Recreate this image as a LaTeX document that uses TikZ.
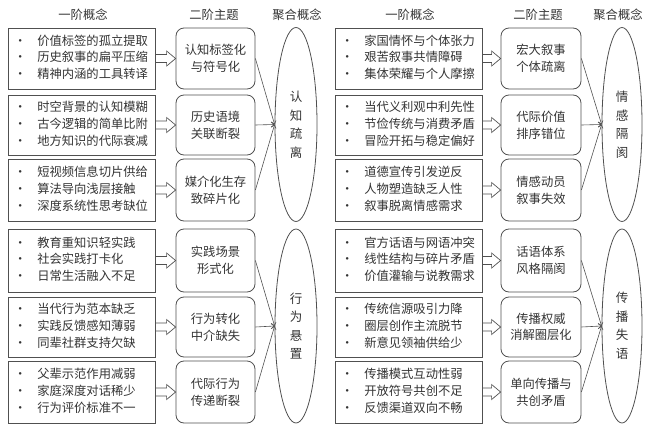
\documentclass[tikz,border=0pt]{standalone}
\usepackage{fontspec}
\setmainfont{Noto Sans CJK SC}
\usetikzlibrary{calc,shapes.geometric,arrows.meta}
\definecolor{ink}{HTML}{333333}
\definecolor{edge}{HTML}{505050}
\newcommand\fsz{\fontsize{12.3}{16.7}\selectfont}
\newcommand\blist[3]{\begin{tabular}{@{}l@{\hspace{11pt}}l@{}}•&#1\\•&#2\\•&#3\end{tabular}}
\newcommand\hollowarr[2]{%
  \path (#1.east) coordinate (ha) (#2.west |- #1.east) coordinate (hb);
  \draw[hollowarrow] ($(ha)+(0,-4)$) -- ($(hb)+(-9,-4)$) -- ($(hb)+(-9,-7.5)$) -- (hb)
     -- ($(hb)+(-9,7.5)$) -- ($(hb)+(-9,4)$) -- ($(ha)+(0,4)$);}
\tikzset{
  fobox/.style={draw=edge, line width=0.8pt, rectangle, text width=135pt, align=left, minimum height=61pt,
     inner xsep=6pt, inner ysep=0pt, text=ink, font=\fsz, anchor=center},
  thbox/.style={draw=edge, line width=0.8pt, rectangle, rounded corners=8pt, minimum width=79pt,
     minimum height=61pt, align=center, text=ink, font=\fsz, inner sep=0pt},
  agg/.style={draw=edge, line width=0.8pt, ellipse, minimum width=42pt, minimum height=194pt,
     inner sep=0pt, align=center, text=ink, font=\fontsize{12.5}{18.5}\selectfont},
  hdr/.style={text=ink, font=\fsz, inner sep=0pt},
  hollowarrow/.style={draw=edge, line width=0.7pt, line join=miter},
  conn/.style={draw=edge, line width=0.6pt, -{Straight Barb[length=3pt,width=5pt]}}
}
\begin{document}
\begin{tikzpicture}[x=1pt,y=-1pt]
\useasboundingbox (0,0) rectangle (649,426);
% headers
\node[hdr] (h1) at (83,15) {一阶概念};
\node[hdr] (h2) at (214,15) {二阶主题};
\node[hdr] (h3) at (297,15) {聚合概念};
\node[hdr] (h4) at (410,15) {一阶概念};
\node[hdr] (h5) at (538,15) {二阶主题};
\node[hdr] (h6) at (618,15) {聚合概念};
% left panel first-order boxes
\node[fobox] (L1) at (81.5,58.5) {\blist{价值标签的孤立提取}{历史叙事的扁平压缩}{精神内涵的工具转译}};
\node[fobox, minimum height=60pt] (L2) at (81.5,125) {\blist{时空背景的认知模糊}{古今逻辑的简单比附}{地方知识的代际衰减}};
\node[fobox, minimum height=62pt] (L3) at (81.5,190) {\blist{短视频信息切片供给}{算法导向浅层接触}{深度系统性思考缺位}};
\node[fobox, minimum height=63pt] (L4) at (81.5,260.5) {\blist{教育重知识轻实践}{社会实践打卡化}{日常生活融入不足}};
\node[fobox, minimum height=60pt] (L5) at (81.5,327) {\blist{当代行为范本缺乏}{实践反馈感知薄弱}{同辈社群支持欠缺}};
\node[fobox, minimum height=62pt] (L6) at (81.5,392) {\blist{父辈示范作用减弱}{家庭深度对话稀少}{行为评价标准不一}};
% left panel themes
\node[thbox] (T1) at (215.5,58.5) {认知标签化\\与符号化};
\node[thbox, minimum height=60pt] (T2) at (215.5,125) {历史语境\\关联断裂};
\node[thbox, minimum height=62pt] (T3) at (215.5,190) {媒介化生存\\致碎片化};
\node[thbox, minimum height=63pt] (T4) at (215.5,260.5) {实践场景\\形式化};
\node[thbox, minimum height=60pt] (T5) at (215.5,327) {行为转化\\中介缺失};
\node[thbox, minimum height=62pt] (T6) at (215.5,392) {代际行为\\传递断裂};
% left panel aggregates
\node[agg] (A1) at (296,124.5) {认\\知\\疏\\离};
\node[agg] (A2) at (296,326) {行\\为\\悬\\置};
% right panel first-order boxes
\node[fobox] (R1) at (408.5,58.5) {\blist{家国情怀与个体张力}{艰苦叙事共情障碍}{集体荣耀与个人摩擦}};
\node[fobox, minimum height=60pt] (R2) at (408.5,125) {\blist{当代义利观中利先性}{节俭传统与消费矛盾}{冒险开拓与稳定偏好}};
\node[fobox, minimum height=62pt] (R3) at (408.5,190) {\blist{道德宣传引发逆反}{人物塑造缺乏人性}{叙事脱离情感需求}};
\node[fobox, minimum height=63pt] (R4) at (408.5,260.5) {\blist{官方话语与网语冲突}{线性结构与碎片矛盾}{价值灌输与说教需求}};
\node[fobox, minimum height=60pt] (R5) at (408.5,327) {\blist{传统信源吸引力降}{圈层创作主流脱节}{新意见领袖供给少}};
\node[fobox, minimum height=62pt] (R6) at (408.5,392) {\blist{传播模式互动性弱}{开放符号共创不足}{反馈渠道双向不畅}};
% right panel themes
\node[thbox, minimum width=80pt] (U1) at (541,58.5) {宏大叙事\\个体疏离};
\node[thbox, minimum width=80pt, minimum height=60pt] (U2) at (541,125) {代际价值\\排序错位};
\node[thbox, minimum width=80pt, minimum height=62pt] (U3) at (541,190) {情感动员\\叙事失效};
\node[thbox, minimum width=80pt, minimum height=63pt] (U4) at (541,260.5) {话语体系\\风格隔阂};
\node[thbox, minimum width=80pt, minimum height=60pt] (U5) at (541,327) {传播权威\\消解圈层化};
\node[thbox, minimum width=80pt, minimum height=62pt] (U6) at (541,392) {单向传播与\\共创矛盾};
% right panel aggregates
\node[agg, minimum width=40pt] (B1) at (622,124.5) {情\\感\\隔\\阂};
\node[agg, minimum width=40pt] (B2) at (622,326) {传\\播\\失\\语};
% hollow arrows
\hollowarr{L1}{T1}\hollowarr{L2}{T2}\hollowarr{L3}{T3}
\hollowarr{L4}{T4}\hollowarr{L5}{T5}\hollowarr{L6}{T6}
\hollowarr{R1}{U1}\hollowarr{R2}{U2}\hollowarr{R3}{U3}
\hollowarr{R4}{U4}\hollowarr{R5}{U5}\hollowarr{R6}{U6}
% connectors
\draw[conn] (T1.east) -- (A1.west);
\draw[conn] (T2.east) -- (A1.west);
\draw[conn] (T3.east) -- (A1.west);
\draw[conn] (T4.east) -- (A2.west);
\draw[conn] (T5.east) -- (A2.west);
\draw[conn] (T6.east) -- (A2.west);
\draw[conn] (U1.east) -- (B1.west);
\draw[conn] (U2.east) -- (B1.west);
\draw[conn] (U3.east) -- (B1.west);
\draw[conn] (U4.east) -- (B2.west);
\draw[conn] (U5.east) -- (B2.west);
\draw[conn] (U6.east) -- (B2.west);
\end{tikzpicture}
\end{document}
